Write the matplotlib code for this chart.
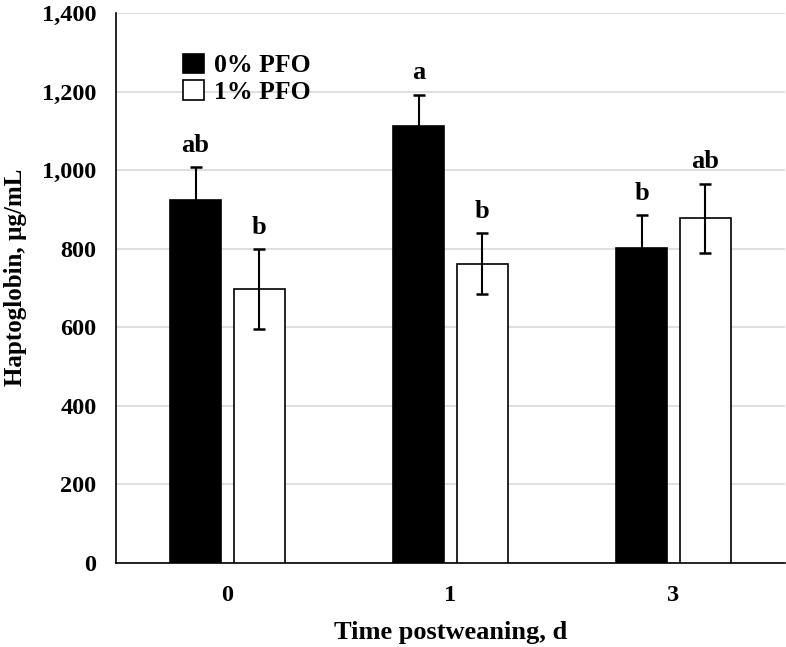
import matplotlib.pyplot as plt
import numpy as np

days = ['0', '1', '3']
pfo0 = [924, 1112, 802]
pfo0_se = [84, 80, 84]
pfo1 = [697, 762, 877]
pfo1_se = [102, 77, 89]
letters0 = ['ab', 'a', 'b']
letters1 = ['b', 'b', 'ab']

plt.rcParams['font.family'] = ['Liberation Serif', 'DejaVu Serif']
plt.rcParams['font.weight'] = 'bold'

fig = plt.figure(figsize=(7.86, 6.47), dpi=100)
ax = fig.add_axes([116 / 786, 1 - 563 / 647, 669 / 786, 550 / 647])

x = np.arange(len(days))
w = 0.229
off = 0.143
err_kw = dict(ecolor='black', elinewidth=1.5, capsize=4, capthick=1.8)
ax.bar(x - off, pfo0, w, yerr=pfo0_se, color='black', edgecolor='black',
       linewidth=1.2, label='0% PFO', error_kw=err_kw, zorder=3)
ax.bar(x + off, pfo1, w, yerr=pfo1_se, color='white', edgecolor='black',
       linewidth=1.2, label='1% PFO', error_kw=err_kw, zorder=3)

# significance letters above the error bars
for i in range(len(days)):
    ax.annotate(letters0[i], (x[i] - off, pfo0[i] + pfo0_se[i]), xytext=(0, 11),
                textcoords='offset points', ha='center', va='baseline', fontsize=19, fontweight='bold')
    ax.annotate(letters1[i], (x[i] + off, pfo1[i] + pfo1_se[i]), xytext=(0, 11),
                textcoords='offset points', ha='center', va='baseline', fontsize=19, fontweight='bold')

ax.set_xlim(-0.5, 2.5)
ax.set_ylim(0, 1400)
ax.set_yticks(range(0, 1401, 200))
ax.set_yticklabels([f'{v:,}' for v in range(0, 1401, 200)])
ax.set_xticks(x)
ax.set_xticklabels(days)
ax.tick_params(axis='both', length=0, labelsize=17.5)
ax.tick_params(axis='y', pad=14)
ax.tick_params(axis='x', pad=16)
ax.yaxis.grid(True, color='#d9d9d9', linewidth=1.2, zorder=0)
ax.set_axisbelow(True)
for s in ['top', 'right']:
    ax.spines[s].set_visible(False)
for s in ['left', 'bottom']:
    ax.spines[s].set_linewidth(1.2)

ax.set_xlabel('Time postweaning, d', fontsize=19, fontweight='bold')
ax.set_ylabel('Haptoglobin, µg/mL', fontsize=18, fontweight='bold')
ax.xaxis.set_label_coords(0.5, -0.105)
ax.yaxis.set_label_coords(-0.133, 0.52)

ax.legend(loc='upper left', bbox_to_anchor=(0.085, 0.945), frameon=False, fontsize=18.5,
          handlelength=0.8, handleheight=0.8, handletextpad=0.4, labelspacing=0.1,
          borderaxespad=0)

fig.savefig('out.png', dpi=100)
